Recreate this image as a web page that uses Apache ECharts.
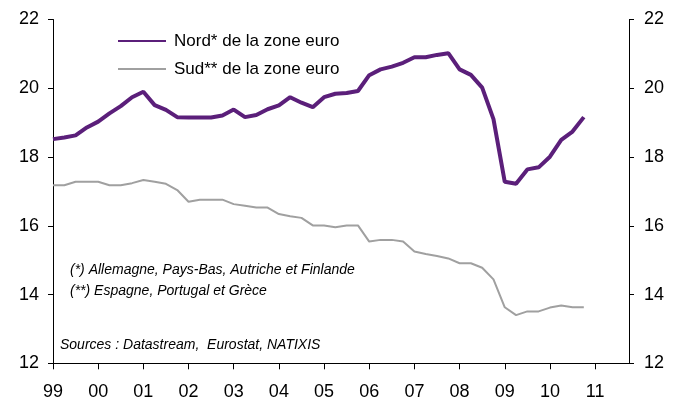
<!DOCTYPE html>
<html>
<head>
<meta charset="utf-8">
<script src="https://cdn.jsdelivr.net/npm/echarts@6/dist/echarts.min.js"></script>
<style>
html,body{margin:0;padding:0;background:#fff;}
#chart{width:685px;height:408px;}
</style>
</head>
<body>
<div id="chart"></div>
<script>
// Tick labels (years) – each year holds 4 quarters
var yearLabels = ['99','00','01','02','03','04','05','06','07','08','09','10','11'];
var quartersPerYear = ['T1','T2','T3','T4'];

// Series values, quarterly 1999T1 .. 2010T4
var nordValues = [
  18.52, 18.57, 18.63, 18.86, 19.03, 19.27, 19.48, 19.74, 19.90, 19.51, 19.37, 19.16,
  19.15, 19.15, 19.15, 19.21, 19.38, 19.16, 19.22, 19.39, 19.50, 19.74, 19.58, 19.45,
  19.74, 19.84, 19.86, 19.92, 20.38, 20.55, 20.63, 20.74, 20.90, 20.90, 20.97, 21.02,
  20.55, 20.39, 20.02, 19.10, 17.28, 17.22, 17.64, 17.70, 18.01, 18.50, 18.74, 19.16
];
var sudValues = [
  17.18, 17.18, 17.28, 17.28, 17.28, 17.18, 17.18, 17.24, 17.33, 17.28, 17.22, 17.04,
  16.70, 16.76, 16.76, 16.76, 16.63, 16.58, 16.53, 16.53, 16.34, 16.28, 16.23, 16.01,
  16.01, 15.96, 16.01, 16.01, 15.54, 15.59, 15.59, 15.54, 15.25, 15.18, 15.12, 15.05,
  14.91, 14.91, 14.78, 14.44, 13.63, 13.40, 13.51, 13.51, 13.62, 13.68, 13.63, 13.63
];
var seriesNames = ['Nord* de la zone euro', 'Sud** de la zone euro'];
var notes = [
  '(*) Allemagne, Pays-Bas, Autriche et Finlande',
  '(**) Espagne, Portugal et Grèce',
  'Sources : Datastream,  Eurostat, NATIXIS'
];

var categories = [];
yearLabels.forEach(function (y) {
  quartersPerYear.forEach(function (q) { categories.push(y + ' ' + q); });
});

var FONT = '"Liberation Sans", Arial, sans-serif';
var axisColor = '#000';

var chart = echarts.init(document.getElementById('chart'), null, {renderer: 'canvas'});
var yAxisCommon = {
  type: 'value', min: 12, max: 22, interval: 2,
  axisLine: {show: true, lineStyle: {color: axisColor, width: 1}},
  axisTick: {show: true, length: 5, lineStyle: {color: axisColor}},
  splitLine: {show: false},
  axisLabel: {color: '#000', fontSize: 18, fontFamily: FONT}
};
chart.setOption({
  animation: false,
  backgroundColor: '#fff',
  grid: {left: 53, right: 56, top: 19.5, bottom: 44.7, containLabel: false},
  legend: {
    orient: 'vertical', left: 117, top: 31, padding: 0,
    itemWidth: 48, itemHeight: 14, itemGap: 8,
    data: seriesNames,
    itemStyle: {opacity: 0},
    textStyle: {color: '#000', fontSize: 17, fontFamily: FONT, lineHeight: 20, padding: [0, 0, 0, 3]}
  },
  xAxis: {
    type: 'category', data: categories, boundaryGap: false,
    axisLine: {show: true, lineStyle: {color: axisColor, width: 1}},
    axisTick: {show: true, length: 6, lineStyle: {color: axisColor},
      interval: function (i) { return i % 4 === 0; }},
    axisLabel: {color: '#000', fontSize: 18, fontFamily: FONT, margin: 20,
      interval: function (i) { return i % 4 === 0; },
      formatter: function (v) { return v.split(' ')[0]; }},
    splitLine: {show: false}
  },
  yAxis: [
    Object.assign({}, yAxisCommon, {position: 'left', axisLabel: Object.assign({}, yAxisCommon.axisLabel, {margin: 14})}),
    Object.assign({}, yAxisCommon, {position: 'right', axisLabel: Object.assign({}, yAxisCommon.axisLabel, {margin: 15})})
  ],
  series: [
    {name: seriesNames[0], type: 'line', data: nordValues, symbol: 'none',
      lineStyle: {color: '#5B1F7A', width: 4}, itemStyle: {color: '#5B1F7A'}},
    {name: seriesNames[1], type: 'line', data: sudValues, symbol: 'none',
      lineStyle: {color: '#A0A0A0', width: 2}, itemStyle: {color: '#A0A0A0'}}
  ],
  graphic: [
    {type: 'text', left: 70, top: 263, style: {text: notes[0], fill: '#000', font: 'italic 14px ' + FONT}},
    {type: 'text', left: 70, top: 284, style: {text: notes[1], fill: '#000', font: 'italic 14px ' + FONT}},
    {type: 'text', left: 60, top: 338, style: {text: notes[2], fill: '#000', font: 'italic 14px ' + FONT}}
  ]
});
</script>
</body>
</html>
